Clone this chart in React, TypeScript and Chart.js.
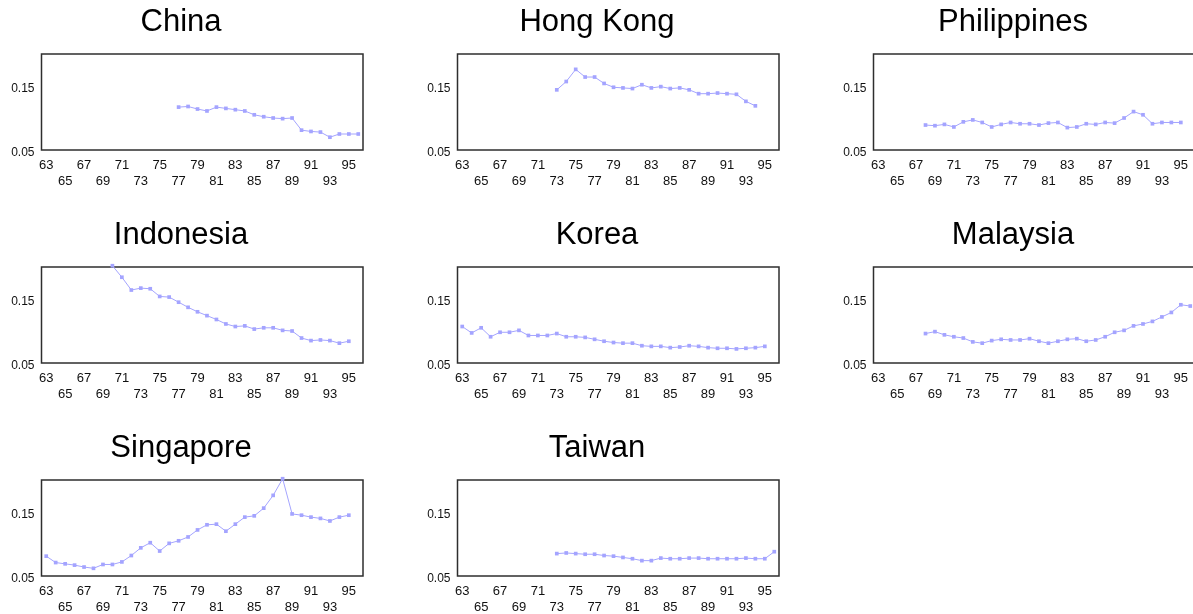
import React, { useEffect, useRef } from "react";
import { Chart, registerables } from "chart.js";

Chart.register(...registerables);

// x categories (years 1963–1996)
const years = ["63","64","65","66","67","68","69","70","71","72","73","74","75","76","77","78","79","80","81","82","83","84","85","86","87","88","89","90","91","92","93","94","95","96"];
const yTickValues = [0.05, 0.15];
const yMin = 0.05;
const yMax = 0.2;

const chinaStart = "77";
const chinaValues = [0.117, 0.118, 0.114, 0.111, 0.117, 0.115, 0.113, 0.111, 0.105, 0.102, 0.100, 0.099, 0.100, 0.081, 0.079, 0.078, 0.070, 0.075, 0.075, 0.075];

const hongKongStart = "73";
const hongKongValues = [0.144, 0.157, 0.176, 0.164, 0.164, 0.154, 0.148, 0.147, 0.146, 0.152, 0.147, 0.149, 0.146, 0.147, 0.144, 0.138, 0.138, 0.139, 0.138, 0.137, 0.126, 0.119];

const philippinesStart = "68";
const philippinesValues = [0.089, 0.088, 0.090, 0.086, 0.094, 0.097, 0.093, 0.086, 0.090, 0.093, 0.091, 0.091, 0.089, 0.092, 0.093, 0.085, 0.086, 0.091, 0.090, 0.093, 0.092, 0.100, 0.110, 0.105, 0.091, 0.093, 0.093, 0.093];

const indonesiaStart = "70";
const indonesiaValues = [0.202, 0.184, 0.164, 0.167, 0.166, 0.154, 0.153, 0.145, 0.137, 0.130, 0.124, 0.118, 0.111, 0.107, 0.108, 0.103, 0.105, 0.105, 0.101, 0.100, 0.089, 0.085, 0.086, 0.085, 0.081, 0.084];

const koreaStart = "63";
const koreaValues = [0.107, 0.097, 0.105, 0.091, 0.098, 0.098, 0.101, 0.093, 0.093, 0.093, 0.096, 0.091, 0.091, 0.090, 0.087, 0.084, 0.082, 0.081, 0.081, 0.077, 0.076, 0.076, 0.074, 0.075, 0.077, 0.076, 0.074, 0.073, 0.073, 0.072, 0.073, 0.074, 0.076];

const malaysiaStart = "68";
const malaysiaValues = [0.096, 0.099, 0.094, 0.091, 0.089, 0.083, 0.081, 0.085, 0.087, 0.086, 0.086, 0.088, 0.084, 0.081, 0.084, 0.087, 0.088, 0.084, 0.086, 0.091, 0.098, 0.101, 0.108, 0.111, 0.115, 0.122, 0.129, 0.141, 0.139];

const singaporeStart = "63";
const singaporeValues = [0.081, 0.071, 0.069, 0.067, 0.064, 0.062, 0.068, 0.068, 0.072, 0.082, 0.094, 0.102, 0.089, 0.101, 0.105, 0.111, 0.122, 0.130, 0.131, 0.120, 0.131, 0.142, 0.144, 0.156, 0.176, 0.202, 0.147, 0.145, 0.142, 0.140, 0.136, 0.142, 0.145];

const taiwanStart = "73";
const taiwanValues = [0.085, 0.086, 0.085, 0.084, 0.084, 0.082, 0.081, 0.079, 0.077, 0.074, 0.074, 0.078, 0.077, 0.077, 0.078, 0.078, 0.077, 0.077, 0.077, 0.077, 0.078, 0.077, 0.077, 0.088];

const FONT = "'Liberation Sans', Arial, Helvetica, sans-serif";
const LINE_COLOR = "#a4a4ff";

type PanelSpec = { title: string; start: string; values: number[]; col: number; row: number };

const panels: PanelSpec[] = [
  { title: "China", start: chinaStart, values: chinaValues, col: 0, row: 0 },
  { title: "Hong Kong", start: hongKongStart, values: hongKongValues, col: 1, row: 0 },
  { title: "Philippines", start: philippinesStart, values: philippinesValues, col: 2, row: 0 },
  { title: "Indonesia", start: indonesiaStart, values: indonesiaValues, col: 0, row: 1 },
  { title: "Korea", start: koreaStart, values: koreaValues, col: 1, row: 1 },
  { title: "Malaysia", start: malaysiaStart, values: malaysiaValues, col: 2, row: 1 },
  { title: "Singapore", start: singaporeStart, values: singaporeValues, col: 0, row: 2 },
  { title: "Taiwan", start: taiwanStart, values: taiwanValues, col: 1, row: 2 },
];

const CANVAS_W = 416;
const CANVAS_H = 190;
const COL_CENTERS = [181, 597, 1013];
const ROW_TOPS = [0, 213, 426];

const boxPlugin = {
  id: "plotBox",
  beforeDatasetsDraw(chart: any) {
    const { ctx, chartArea: a } = chart;
    ctx.save();
    ctx.strokeStyle = "#2e2e2e";
    ctx.lineWidth = 1.5;
    ctx.strokeRect(a.left, a.top, a.right - a.left, a.bottom - a.top);
    ctx.restore();
  },
};

function buildSeries(start: string, values: number[]): (number | null)[] {
  const offset = years.indexOf(start);
  return years.map((_, i) => {
    const k = i - offset;
    return k >= 0 && k < values.length ? values[k] : null;
  });
}

function Panel({ spec }: { spec: PanelSpec }) {
  const ref = useRef<HTMLCanvasElement | null>(null);
  useEffect(() => {
    if (!ref.current) return;
    const chart = new Chart(ref.current, {
      type: "line",
      data: {
        labels: years,
        datasets: [
          {
            data: buildSeries(spec.start, spec.values),
            borderColor: LINE_COLOR,
            backgroundColor: LINE_COLOR,
            borderWidth: 1,
            pointStyle: "rect",
            pointRadius: 2.6,
            pointBorderWidth: 0,
            pointBackgroundColor: LINE_COLOR,
            clip: false as any,
            spanGaps: false,
            tension: 0,
          },
        ],
      },
      options: {
        animation: false,
        responsive: false,
        maintainAspectRatio: false,
        events: [],
        layout: { padding: { left: 26, right: 26, top: 0, bottom: 0 } },
        plugins: {
          legend: { display: false },
          tooltip: { enabled: false },
          title: {
            display: true,
            text: spec.title,
            color: "#000",
            font: { family: FONT, size: 31, weight: "normal" as any, lineHeight: 1.2 },
            padding: { top: 3.7, bottom: 13.1 },
          },
        },
        scales: {
          x: {
            type: "category",
            offset: true,
            grid: { display: false, drawTicks: false },
            border: { display: false },
            ticks: {
              autoSkip: false,
              maxRotation: 0,
              minRotation: 0,
              padding: 8,
              color: "#111",
              font: { family: FONT, size: 13, lineHeight: 1.2 },
              callback: (_v: any, i: number) => {
                const y = parseInt(years[i], 10);
                if ((y - 63) % 2 !== 0) return "";
                if ((y - 63) % 4 === 0) return years[i];
                return ["", years[i]];
              },
            },
            afterFit: (s: any) => {
              s.height = 40;
            },
          },
          y: {
            min: yMin,
            max: yMax,
            grid: { display: false, drawTicks: false },
            border: { display: false },
            afterBuildTicks: (s: any) => {
              s.ticks = yTickValues.map((v) => ({ value: v }));
            },
            ticks: {
              padding: 7,
              labelOffset: 2.5,
              color: "#111",
              font: { family: FONT, size: 12 },
              callback: (v: any) => Number(v).toFixed(2),
            },
            afterFit: (s: any) => {
              s.width = 42.5;
            },
          },
        },
      },
      plugins: [boxPlugin],
    });
    return () => chart.destroy();
  }, [spec]);

  const left = COL_CENTERS[spec.col] - CANVAS_W / 2;
  const top = ROW_TOPS[spec.row];
  return (
    <canvas
      ref={ref}
      width={CANVAS_W}
      height={CANVAS_H}
      style={{ position: "absolute", left, top, width: CANVAS_W, height: CANVAS_H }}
    />
  );
}

export default function App() {
  return (
    <div
      style={{
        position: "fixed",
        left: 0,
        top: 0,
        width: 1193,
        height: 614,
        overflow: "hidden",
        background: "#fff",
      }}
    >
      {panels.map((p) => (
        <Panel key={p.title} spec={p} />
      ))}
    </div>
  );
}
